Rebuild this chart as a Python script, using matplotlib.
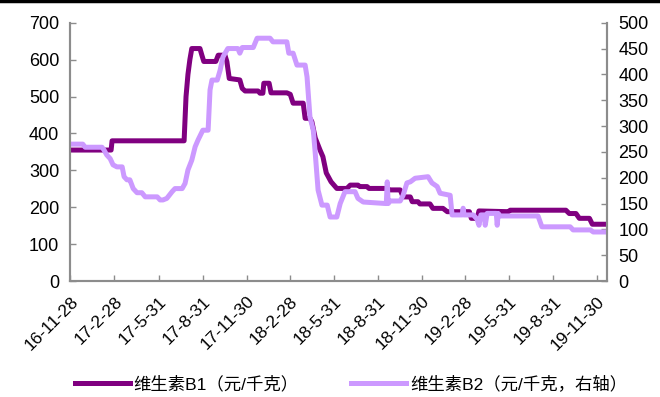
import numpy as np
import pandas as pd
import matplotlib
matplotlib.use('Agg')
import matplotlib.pyplot as plt
from matplotlib.lines import Line2D

plt.rcParams['font.family'] = ['Liberation Sans', 'Noto Sans CJK SC', 'DejaVu Sans']

start = pd.Timestamp('2016-11-28')

# vitamin B1 (left axis), days after 2016-11-28 and price
b1_days = [0, 85, 87, 237, 241, 245, 249, 253, 270, 274, 278, 303, 308, 322, 326, 331,
           353, 358, 364, 391, 395, 401, 403, 414, 418, 451, 458, 464, 485, 489, 499,
           503, 510, 520, 526, 533, 543, 555, 576, 583, 599, 603, 618, 622, 660, 664,
           687, 693, 708, 712, 724, 728, 749, 755, 776, 785, 831, 835, 847, 851, 912,
           916, 1032, 1039, 1053, 1060, 1081, 1087, 1118]
b1_vals = [355, 355, 380, 380, 500, 560, 600, 630, 630, 612, 595, 595, 612, 612, 595, 549,
           545, 522, 515, 515, 509, 509, 536, 536, 510, 510, 506, 482, 482, 441, 441,
           432, 388, 355, 337, 293, 269, 251, 251, 260, 260, 256, 256, 251, 251, 247,
           247, 228, 228, 215, 215, 209, 209, 197, 197, 188, 188, 170, 170, 190, 188,
           192, 192, 183, 183, 170, 170, 154, 154]

# vitamin B2 (right axis)
b2_days = [0, 26, 31, 66, 70, 76, 83, 89, 97, 108, 112, 118, 124, 131, 139, 149, 156,
           181, 187, 193, 201, 212, 218, 233, 239, 245, 253, 260, 266, 276, 287, 291,
           295, 306, 312, 318, 328, 349, 353, 358, 381, 389, 416, 422, 451, 455, 464,
           472, 489, 493, 499, 506, 510, 516, 524, 535, 541, 555, 562, 572, 593, 599,
           610, 658, 660, 662, 666, 687, 693, 701, 708, 718, 745, 753, 764, 770, 791,
           795, 816, 818, 820, 839, 847, 851, 855, 862, 864, 868, 887, 889, 891, 895,
           974, 982, 1041, 1047, 1083, 1089, 1118]
b2_vals = [265, 265, 259, 259, 254, 244, 237, 225, 221, 221, 202, 196, 196, 179, 171, 171, 163,
           163, 157, 157, 160, 173, 179, 179, 189, 215, 234, 260, 273, 292, 292, 370,
           389, 389, 408, 434, 450, 450, 441, 452, 452, 470, 470, 463, 463, 441, 441,
           418, 418, 395, 318, 292, 248, 176, 147, 147, 124, 124, 150, 173, 173, 160,
           153, 150, 192, 150, 155, 155, 166, 190, 192, 199, 202, 190, 183, 170, 166,
           128, 128, 141, 128, 128, 120, 108, 128, 128, 108, 131, 131, 108, 131, 126,
           126, 105, 105, 99, 99, 95, 95]

tick_labels = ['16-11-28', '17-2-28', '17-5-31', '17-8-31', '17-11-30', '18-2-28', '18-5-31',
               '18-8-31', '18-11-30', '19-2-28', '19-5-31', '19-8-31', '19-11-30']
tick_dates = pd.to_datetime(['2016-11-28', '2017-02-28', '2017-05-31', '2017-08-31',
                             '2017-11-30', '2018-02-28', '2018-05-31', '2018-08-31',
                             '2018-11-30', '2019-02-28', '2019-05-31', '2019-08-31',
                             '2019-11-30'])

b1_x = start + pd.to_timedelta(b1_days, unit='D')
b2_x = start + pd.to_timedelta(b2_days, unit='D')

c1 = '#800080'
c2 = '#CC99FF'
spine_c = '#8c8c8c'

fig = plt.figure(figsize=(6.6, 3.97), dpi=100)
ax = fig.add_axes([0.1065, 0.292, 0.8135, 0.6508])
ax2 = ax.twinx()

l1, = ax.plot(b1_x, b1_vals, color=c1, lw=3.6)
l2, = ax2.plot(b2_x, b2_vals, color=c2, lw=3.6)

ax.set_xlim(start, pd.Timestamp('2019-12-21'))
ax.set_ylim(0, 700)
ax2.set_ylim(0, 500)
ax.set_yticks(np.arange(0, 701, 100))
ax2.set_yticks(np.arange(0, 501, 50))
ax.set_xticks(tick_dates)
ax.set_xticklabels(tick_labels, rotation=45, ha='right', rotation_mode='anchor')

for a in (ax, ax2):
    a.spines['top'].set_visible(False)
    for s in ('left', 'right', 'bottom'):
        a.spines[s].set_color(spine_c)
        a.spines[s].set_linewidth(1.5)
    a.tick_params(direction='in', length=4, width=1, color=spine_c, labelsize=13)
ax.tick_params(axis='x', pad=9, labelsize=12.6)
ax.tick_params(axis='y', pad=8)
ax2.tick_params(axis='y', pad=8)

fig.legend([l1, l2], ['维生素B1（元/千克）', '维生素B2（元/千克，右轴）'],
           loc='center left', bbox_to_anchor=(0.1, 0.033), ncol=2, frameon=False,
           borderpad=0, fontsize=12.5, handlelength=3.2, handletextpad=0.2,
           columnspacing=3.0)

fig.add_artist(Line2D([0, 1], [0.997, 0.997], color='black', lw=2.5, transform=fig.transFigure))

fig.savefig('out.png', dpi=100)
